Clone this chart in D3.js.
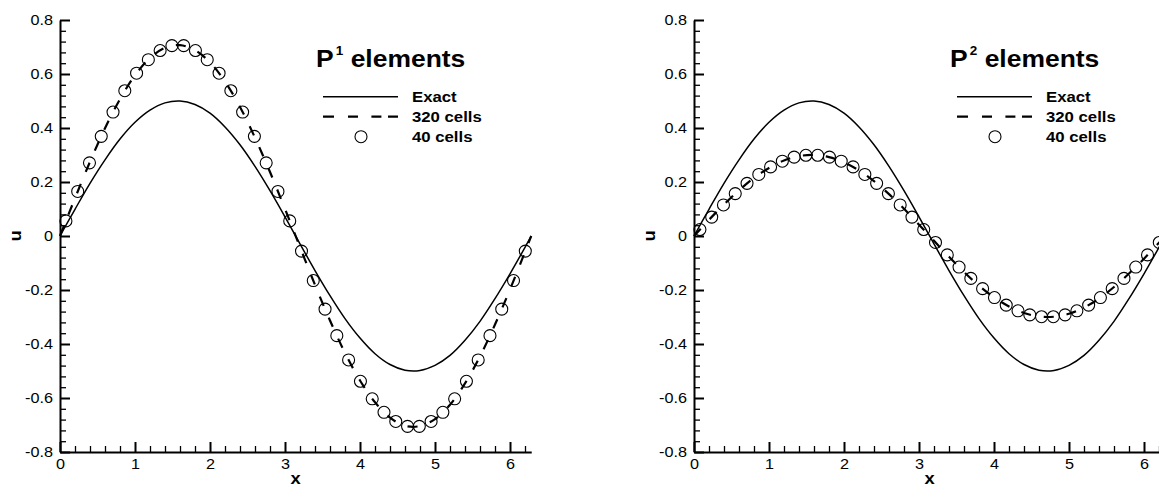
<!DOCTYPE html>
<html>
<head>
<meta charset="utf-8">
<script src="https://cdn.jsdelivr.net/npm/d3@7"></script>
<style>
body { margin: 0; background: #fff; }
svg { display: block; }
text { font-family: "Liberation Sans", Arial, Helvetica, sans-serif; fill: #000; }
</style>
</head>
<body>
<div id="chart"></div>
<script>
// sample points for the exact and 320-cell curves
const xLine = [0, 0.2, 0.4, 0.6, 0.8, 1.0, 1.2, 1.4, 1.6, 1.8, 2.0, 2.2, 2.4, 2.6, 2.8, 3.0,
  3.2, 3.4, 3.6, 3.8, 4.0, 4.2, 4.4, 4.6, 4.8, 5.0, 5.2, 5.4, 5.6, 5.8, 6.0, 6.2, 6.283];

const exactU = [0, 0.099, 0.195, 0.282, 0.359, 0.421, 0.466, 0.493, 0.500, 0.487, 0.455, 0.404,
  0.338, 0.258, 0.168, 0.071, -0.029, -0.128, -0.221, -0.306, -0.378, -0.436, -0.476, -0.497,
  -0.498, -0.479, -0.442, -0.386, -0.316, -0.232, -0.140, -0.042, 0];

const p1Fine = [0, 0.140, 0.275, 0.399, 0.507, 0.595, 0.659, 0.697, 0.707, 0.688, 0.643, 0.572,
  0.478, 0.364, 0.237, 0.100, -0.041, -0.181, -0.313, -0.433, -0.535, -0.616, -0.673, -0.703,
  -0.704, -0.678, -0.625, -0.546, -0.446, -0.328, -0.198, -0.059, 0];

const p2Fine = [0, 0.060, 0.117, 0.169, 0.215, 0.252, 0.280, 0.296, 0.300, 0.292, 0.273, 0.243,
  0.203, 0.155, 0.101, 0.042, -0.018, -0.077, -0.133, -0.184, -0.227, -0.261, -0.285, -0.298,
  -0.299, -0.288, -0.265, -0.232, -0.189, -0.139, -0.084, -0.025, 0];

// 40 cell centres
const xCells = [0.079, 0.236, 0.393, 0.550, 0.707, 0.864, 1.021, 1.178, 1.335, 1.492,
  1.649, 1.806, 1.963, 2.121, 2.278, 2.435, 2.592, 2.749, 2.906, 3.063,
  3.220, 3.377, 3.534, 3.691, 3.848, 4.006, 4.163, 4.320, 4.477, 4.634,
  4.791, 4.948, 5.105, 5.262, 5.419, 5.576, 5.733, 5.890, 6.047, 6.204];

const p1Cells = [0.056, 0.165, 0.271, 0.369, 0.459, 0.538, 0.603, 0.653, 0.687, 0.705,
  0.705, 0.687, 0.653, 0.603, 0.538, 0.459, 0.369, 0.271, 0.165, 0.056,
  -0.056, -0.165, -0.271, -0.369, -0.459, -0.538, -0.603, -0.653, -0.687, -0.705,
  -0.705, -0.687, -0.653, -0.603, -0.538, -0.459, -0.369, -0.271, -0.165, -0.056];

const p2Cells = [0.024, 0.070, 0.115, 0.157, 0.195, 0.228, 0.256, 0.277, 0.292, 0.299,
  0.299, 0.292, 0.277, 0.256, 0.228, 0.195, 0.157, 0.115, 0.070, 0.024,
  -0.024, -0.070, -0.115, -0.157, -0.195, -0.228, -0.256, -0.277, -0.292, -0.299,
  -0.299, -0.292, -0.277, -0.256, -0.228, -0.195, -0.157, -0.115, -0.070, -0.024];

const xTicks = [0, 1, 2, 3, 4, 5, 6];
const yTicks = [-0.8, -0.6, -0.4, -0.2, 0, 0.2, 0.4, 0.6, 0.8];
const legendLabels = ["Exact", "320 cells", "40 cells"];

const W = 1159, H = 487;
const sx = 1.08; // glyphs in the picture are a bit wider than tall

const svg = d3.select("#chart").append("svg")
  .attr("width", W)
  .attr("height", H);

function fmtY(d) { return d === 0 ? "0" : d.toFixed(1); }
function fmtX(d) { return String(d); }

function drawPanel(left, supText, fine, cells) {
  const x = d3.scaleLinear().domain([0, 2 * Math.PI]).range([left, left + 2 * Math.PI * 75]);
  const y = d3.scaleLinear().domain([-0.8, 0.8]).range([452, 20]);
  const g = svg.append("g");

  const xMinor = d3.range(0, 6.3, 0.2).filter(v => Math.abs(v - Math.round(v)) > 0.01);
  const yMinor = d3.range(-0.8, 0.81, 0.04).filter(v => Math.abs(v * 5 - Math.round(v * 5)) > 0.01);

  // minor ticks
  g.append("g")
    .attr("transform", `translate(${left},0)`)
    .call(d3.axisLeft(y).tickValues(yMinor).tickSize(-6).tickFormat(""))
    .call(a => a.select(".domain").remove())
    .selectAll("line").attr("stroke-width", 1.3);
  g.append("g")
    .attr("transform", `translate(0,452)`)
    .call(d3.axisBottom(x).tickValues(xMinor).tickSize(-6).tickFormat(""))
    .call(a => a.select(".domain").remove())
    .selectAll("line").attr("stroke-width", 1.3);

  // major ticks + spines
  const ya = g.append("g")
    .attr("transform", `translate(${left},0)`)
    .call(d3.axisLeft(y).tickValues(yTicks).tickSize(-10).tickSizeOuter(0).tickPadding(7).tickFormat(fmtY));
  ya.select(".domain").attr("stroke-width", 2);
  ya.selectAll("line").attr("stroke-width", 2);
  ya.selectAll("text").attr("font-size", 15).attr("x", -7 / sx).attr("transform", `scale(${sx},1)`);

  const xa = g.append("g")
    .attr("transform", `translate(0,452)`)
    .call(d3.axisBottom(x).tickValues(xTicks).tickSize(-10).tickSizeOuter(0).tickPadding(6).tickFormat(fmtX));
  xa.select(".domain").attr("stroke-width", 2);
  xa.selectAll("line").attr("stroke-width", 2);
  xa.selectAll("text").attr("font-size", 15).attr("transform", `scale(${sx},1)`);

  // axis titles
  g.append("text")
    .attr("transform", `translate(${left - 39},236) rotate(-90) scale(${sx},1)`)
    .attr("text-anchor", "middle")
    .attr("font-size", 17).attr("font-weight", "bold")
    .text("u");
  g.append("text")
    .attr("transform", `translate(${left + 235.5},484) scale(${sx},1)`)
    .attr("text-anchor", "middle")
    .attr("font-size", 17).attr("font-weight", "bold")
    .text("x");

  const mkLine = d3.line().curve(d3.curveCatmullRom.alpha(0.5))
    .x(d => x(d[0])).y(d => y(d[1]));

  g.append("path")
    .attr("d", mkLine(d3.zip(xLine, exactU)))
    .attr("fill", "none").attr("stroke", "#000").attr("stroke-width", 1.5);

  g.append("path")
    .attr("d", mkLine(d3.zip(xLine, fine)))
    .attr("fill", "none").attr("stroke", "#000").attr("stroke-width", 2.2)
    .attr("stroke-dasharray", "10,13");

  g.selectAll("circle.cell")
    .data(d3.zip(xCells, cells))
    .join("circle")
    .attr("class", "cell")
    .attr("cx", d => x(d[0])).attr("cy", d => y(d[1]))
    .attr("r", 6)
    .attr("fill", "none").attr("stroke", "#000").attr("stroke-width", 1.1);

  // title
  const t = g.append("text")
    .attr("transform", `translate(${left + 256},66.7) scale(${sx},1)`)
    .attr("font-size", 24.5).attr("font-weight", "bold");
  t.append("tspan").text("P");
  t.append("tspan").attr("font-size", 12.5).attr("dx", 2).attr("dy", -12).text(supText);
  t.append("tspan").attr("dy", 12).text(" elements");

  // legend
  const lg = g.append("g").attr("transform", `translate(${left + 263},0)`);
  lg.append("line").attr("x1", 0).attr("x2", 75).attr("y1", 96.7).attr("y2", 96.7)
    .attr("stroke", "#000").attr("stroke-width", 1.5);
  lg.append("line").attr("x1", 0).attr("x2", 75).attr("y1", 116.7).attr("y2", 116.7)
    .attr("stroke", "#000").attr("stroke-width", 2.2)
    .attr("stroke-dasharray", "11,14,10,13.4,10,6.6,10");
  lg.append("circle").attr("cx", 38).attr("cy", 136.7).attr("r", 6)
    .attr("fill", "none").attr("stroke", "#000").attr("stroke-width", 1.1);
  lg.selectAll("text.leg")
    .data(legendLabels)
    .join("text")
    .attr("class", "leg")
    .attr("transform", (d, i) => `translate(89,${101.7 + i * 20}) scale(${sx},1)`)
    .attr("font-size", 15.5).attr("font-weight", "bold")
    .text(d => d);
}

drawPanel(60, "1", p1Fine, p1Cells);
drawPanel(694, "2", p2Fine, p2Cells);
</script>
</body>
</html>
